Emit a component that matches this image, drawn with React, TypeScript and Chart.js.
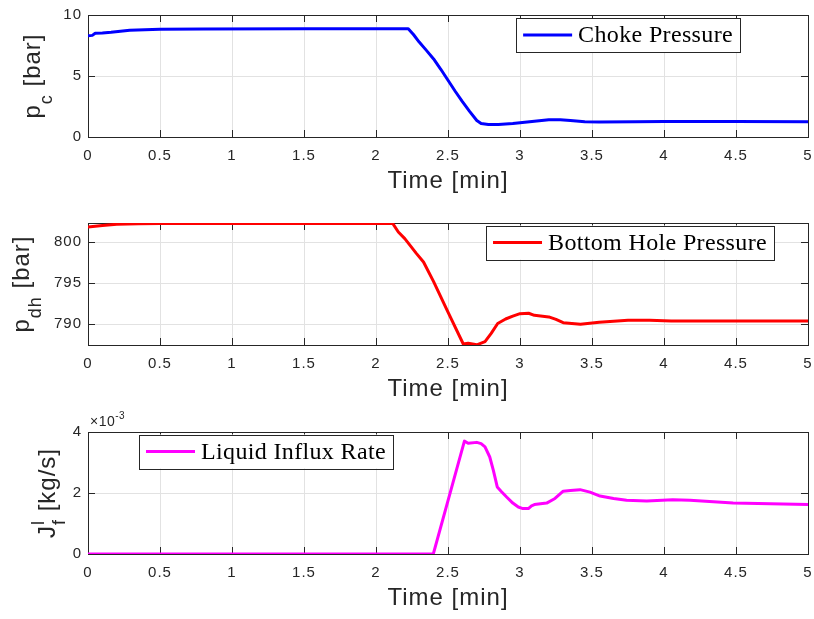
import React, { useEffect, useRef } from "react";
import { Chart, registerables } from "chart.js";

Chart.register(...registerables);

// ---- data -----------------------------------------------------------------

const timeTicks = [0, 0.5, 1, 1.5, 2, 2.5, 3, 3.5, 4, 4.5, 5];

// choke pressure [bar] vs time [min]
const chokeTime = [
  0, 0.03, 0.05, 0.1, 0.16, 0.29, 0.5, 0.8, 1.5, 2.224,
  2.26, 2.3, 2.35, 2.4, 2.45, 2.5, 2.55, 2.6, 2.65, 2.7,
  2.73, 2.78, 2.85, 2.95, 3.05, 3.15, 3.2, 3.28, 3.35, 3.45,
  3.55, 3.8, 4.0, 4.5, 5.0,
];
const chokePressure = [
  8.3, 8.33, 8.5, 8.52, 8.58, 8.75, 8.83, 8.86, 8.87, 8.88,
  8.4, 7.78, 7.1, 6.4, 5.55, 4.65, 3.75, 2.9, 2.1, 1.35,
  1.1, 1.03, 1.02, 1.1, 1.22, 1.35, 1.42, 1.42, 1.35, 1.25,
  1.22, 1.25, 1.28, 1.27, 1.25,
];
const chokeTicks = [0, 5, 10];

// bottom hole pressure [bar] vs time [min]
const bhpTime = [
  0, 0.1, 0.2, 0.35, 0.5, 2.116, 2.155, 2.2, 2.28, 2.33,
  2.4, 2.5, 2.606, 2.64, 2.7, 2.757, 2.8, 2.845, 2.9, 2.95,
  3.0, 3.06, 3.1, 3.2, 3.25, 3.3, 3.42, 3.55, 3.75, 3.9,
  4.05, 5.0,
];
const bhpValues = [
  801.85, 802.05, 802.2, 802.27, 802.3, 802.3, 801.25, 800.45, 798.65, 797.6,
  795.2, 791.5, 787.6, 787.7, 787.5, 787.9, 788.9, 790.1, 790.65, 791.0,
  791.3, 791.35, 791.1, 790.9, 790.6, 790.2, 790.0, 790.25, 790.5, 790.5,
  790.4, 790.4,
];
const bhpTicks = [790, 795, 800];
const bhpRange = [787.48, 802.35];

// liquid influx rate [kg/s] vs time [min]
const influxTime = [
  0, 2.398, 2.614, 2.64, 2.7, 2.73, 2.757, 2.79, 2.815, 2.842,
  2.87, 2.907, 2.95, 2.988, 3.02, 3.058, 3.08, 3.1, 3.185, 3.243,
  3.3, 3.35, 3.417, 3.486, 3.556, 3.65, 3.74, 3.88, 4.06, 4.18,
  4.48, 5.0,
];
const influxRate = [
  0, 0, 3.70e-3, 3.63e-3, 3.66e-3, 3.62e-3, 3.51e-3, 3.18e-3, 2.74e-3, 2.2e-3,
  2.05e-3, 1.87e-3, 1.67e-3, 1.54e-3, 1.49e-3, 1.49e-3, 1.58e-3, 1.62e-3, 1.67e-3, 1.82e-3,
  2.06e-3, 2.08e-3, 2.11e-3, 2.03e-3, 1.9e-3, 1.82e-3, 1.76e-3, 1.74e-3, 1.78e-3, 1.76e-3,
  1.67e-3, 1.62e-3,
];
const influxTicks = [0, 2e-3, 4e-3];

// ---- styling helpers -------------------------------------------------------

const SANS = '"Liberation Sans", Arial, Helvetica, sans-serif';
const SERIF = '"Liberation Serif", "Times New Roman", serif';
const INK = "#262626";
const GRID = "#e2e2e2";

type Seg = { text: string; size: number; shift: number };
type Piece = Seg | { sup: Seg; sub: Seg };

function setSpacing(ctx: CanvasRenderingContext2D, px: number) {
  (ctx as any).letterSpacing = `${px}px`;
}

function segWidth(ctx: CanvasRenderingContext2D, s: Seg) {
  ctx.font = `${s.size}px ${SANS}`;
  return ctx.measureText(s.text).width;
}

function pieceWidth(ctx: CanvasRenderingContext2D, p: Piece) {
  if ("sup" in p) return Math.max(segWidth(ctx, p.sup), segWidth(ctx, p.sub));
  return segWidth(ctx, p);
}

function drawSeg(ctx: CanvasRenderingContext2D, s: Seg, x: number) {
  ctx.font = `${s.size}px ${SANS}`;
  ctx.fillText(s.text, x, s.shift);
}

// rotated axis label built from plain, sub- and superscript pieces
function drawVerticalLabel(
  ctx: CanvasRenderingContext2D,
  pieces: Piece[],
  baselineX: number,
  centerY: number
) {
  ctx.save();
  ctx.translate(baselineX, centerY);
  ctx.rotate(-Math.PI / 2);
  ctx.fillStyle = INK;
  ctx.textBaseline = "alphabetic";
  ctx.textAlign = "left";
  setSpacing(ctx, 1);
  const total = pieces.reduce((a, p) => a + pieceWidth(ctx, p), 0);
  let x = -total / 2;
  for (const p of pieces) {
    const w = pieceWidth(ctx, p);
    if ("sup" in p) {
      drawSeg(ctx, p.sup, x);
      drawSeg(ctx, p.sub, x);
    } else {
      drawSeg(ctx, p, x);
    }
    x += w;
  }
  ctx.restore();
}

type LegendSpec = {
  label: string;
  color: string;
  side: "left" | "right";
  offsetX: number;
  offsetY: number;
};

type FrameOpts = {
  yLabel: Piece[];
  yLabelX: number;
  legend: LegendSpec;
  exponent?: boolean;
};

const framePlugin = {
  id: "frame",
  beforeDraw(chart: any) {
    // slightly wider tick text, as in the axes font
    setSpacing(chart.ctx, 1);
  },
  beforeDatasetsDraw(chart: any) {
    const { ctx, chartArea: a, scales } = chart;
    const tick = 7;
    ctx.save();
    ctx.strokeStyle = INK;
    ctx.lineWidth = 1;
    ctx.beginPath();
    for (const v of timeTicks) {
      const px = Math.round(scales.x.getPixelForValue(v)) + 0.5;
      ctx.moveTo(px, a.bottom);
      ctx.lineTo(px, a.bottom - tick);
      ctx.moveTo(px, a.top);
      ctx.lineTo(px, a.top + tick);
    }
    for (const t of scales.y.ticks) {
      const py = Math.round(scales.y.getPixelForValue(t.value)) + 0.5;
      ctx.moveTo(a.left, py);
      ctx.lineTo(a.left + tick, py);
      ctx.moveTo(a.right, py);
      ctx.lineTo(a.right - tick, py);
    }
    ctx.stroke();
    ctx.strokeRect(
      Math.round(a.left) + 0.5,
      Math.round(a.top) + 0.5,
      Math.round(a.right - a.left),
      Math.round(a.bottom - a.top)
    );
    ctx.restore();
  },
  afterDraw(chart: any, _args: any, opts: FrameOpts) {
    const { ctx, chartArea: a } = chart;
    ctx.save();

    // x axis title
    ctx.fillStyle = INK;
    ctx.font = `24px ${SANS}`;
    setSpacing(ctx, 1);
    ctx.textAlign = "center";
    ctx.textBaseline = "alphabetic";
    ctx.fillText("Time [min]", (a.left + a.right) / 2, a.bottom + 51);

    // y axis title
    drawVerticalLabel(ctx, opts.yLabel, opts.yLabelX, (a.top + a.bottom) / 2);

    // exponent marker
    if (opts.exponent) {
      setSpacing(ctx, 0.5);
      ctx.fillStyle = INK;
      ctx.textAlign = "left";
      ctx.font = `14px ${SANS}`;
      ctx.fillText("\u00d710", a.left + 2, a.top - 6);
      const w = ctx.measureText("\u00d710").width;
      ctx.font = `10px ${SANS}`;
      ctx.fillText("-3", a.left + 2 + w, a.top - 13);
    }

    // legend box
    const L = opts.legend;
    ctx.font = `24px ${SERIF}`;
    setSpacing(ctx, 0.35);
    const tw = ctx.measureText(L.label).width;
    const boxW = 7 + 49 + 6 + tw + 7;
    const boxH = 34;
    const bx = L.side === "right" ? a.right - L.offsetX - boxW : a.left + L.offsetX;
    const by = a.top + L.offsetY;
    ctx.fillStyle = "#ffffff";
    ctx.fillRect(bx, by, boxW, boxH);
    ctx.strokeStyle = INK;
    ctx.lineWidth = 1;
    ctx.strokeRect(Math.round(bx) + 0.5, Math.round(by) + 0.5, Math.round(boxW), boxH);
    ctx.strokeStyle = L.color;
    ctx.lineWidth = 3;
    ctx.beginPath();
    ctx.moveTo(bx + 7, by + boxH / 2);
    ctx.lineTo(bx + 56, by + boxH / 2);
    ctx.stroke();
    ctx.fillStyle = "#000000";
    ctx.textAlign = "left";
    ctx.textBaseline = "middle";
    ctx.fillText(L.label, bx + 62, by + boxH / 2 + 1);
    ctx.restore();
  },
};

type PanelSpec = {
  times: number[];
  values: number[];
  color: string;
  yMin: number;
  yMax: number;
  yTicks: number[];
  yFormat: (v: number) => string;
  padTop: number;
  axisHeight: number;
  frame: FrameOpts;
};

function buildConfig(spec: PanelSpec): any {
  return {
    type: "line",
    data: {
      datasets: [
        {
          data: spec.times.map((t, i) => ({ x: t, y: spec.values[i] })),
          borderColor: spec.color,
          borderWidth: 3,
          pointRadius: 0,
          tension: 0,
          fill: false,
          borderJoinStyle: "round",
          borderCapStyle: "round",
        },
      ],
    },
    options: {
      responsive: false,
      animation: false,
      devicePixelRatio: 1,
      events: [],
      layout: { padding: { top: spec.padTop, right: 6, left: 0, bottom: 0 } },
      plugins: {
        legend: { display: false },
        tooltip: { enabled: false },
        frame: spec.frame,
      },
      scales: {
        x: {
          type: "linear",
          min: 0,
          max: 5,
          afterBuildTicks: (s: any) => {
            s.ticks = timeTicks.map((v) => ({ value: v }));
          },
          afterFit: (s: any) => {
            s.height = spec.axisHeight;
            s.paddingLeft = 0;
            s.paddingRight = 0;
          },
          grid: { color: GRID, drawTicks: false, lineWidth: 1 },
          border: { display: false },
          ticks: {
            padding: 10,
            color: INK,
            font: { family: SANS, size: 15 },
            maxRotation: 0,
            autoSkip: false,
            callback: (v: number) => String(v),
          },
        },
        y: {
          type: "linear",
          min: spec.yMin,
          max: spec.yMax,
          afterBuildTicks: (s: any) => {
            s.ticks = spec.yTicks.map((v) => ({ value: v }));
          },
          afterFit: (s: any) => {
            s.width = 88;
          },
          grid: { color: GRID, drawTicks: false, lineWidth: 1 },
          border: { display: false },
          ticks: {
            padding: 6,
            color: INK,
            font: { family: SANS, size: 15 },
            autoSkip: false,
            callback: (v: number) => spec.yFormat(v),
          },
        },
      },
    },
    plugins: [framePlugin],
  };
}

const panels: { spec: PanelSpec; top: number; height: number }[] = [
  {
    top: 0,
    height: 205,
    spec: {
      times: chokeTime,
      values: chokePressure,
      color: "#0000ff",
      yMin: 0,
      yMax: 10,
      yTicks: chokeTicks,
      yFormat: (v) => String(v),
      padTop: 14,
      axisHeight: 68,
      frame: {
        yLabel: [
          { text: "p", size: 24, shift: 0 },
          { text: "c", size: 18, shift: 12 },
          { text: " [bar]", size: 24, shift: 0 },
        ],
        yLabelX: 40,
        legend: { label: "Choke Pressure", color: "#0000ff", side: "right", offsetX: 68, offsetY: 3 },
      },
    },
  },
  {
    top: 205,
    height: 205,
    spec: {
      times: bhpTime,
      values: bhpValues,
      color: "#ff0000",
      yMin: bhpRange[0],
      yMax: bhpRange[1],
      yTicks: bhpTicks,
      yFormat: (v) => String(v),
      padTop: 18,
      axisHeight: 65,
      frame: {
        yLabel: [
          { text: "p", size: 24, shift: 0 },
          { text: "dh", size: 18, shift: 12 },
          { text: " [bar]", size: 24, shift: 0 },
        ],
        yLabelX: 29,
        legend: { label: "Bottom Hole Pressure", color: "#ff0000", side: "right", offsetX: 34, offsetY: 2.5 },
      },
    },
  },
  {
    top: 410,
    height: 209,
    spec: {
      times: influxTime,
      values: influxRate,
      color: "#ff00ff",
      yMin: 0,
      yMax: 4e-3,
      yTicks: influxTicks,
      yFormat: (v) => String(Math.round(v * 1000)),
      padTop: 22,
      axisHeight: 65,
      frame: {
        yLabel: [
          { text: "J", size: 24, shift: 0 },
          { sup: { text: "l", size: 18, shift: -11 }, sub: { text: "f", size: 18, shift: 10 } },
          { text: " [kg/s]", size: 24, shift: 0 },
        ],
        yLabelX: 55,
        exponent: true,
        legend: { label: "Liquid Influx Rate", color: "#ff00ff", side: "left", offsetX: 51, offsetY: 2.5 },
      },
    },
  },
];

function Panel({ spec, top, height }: { spec: PanelSpec; top: number; height: number }) {
  const ref = useRef<HTMLCanvasElement>(null);
  useEffect(() => {
    const chart = new Chart(ref.current as HTMLCanvasElement, buildConfig(spec));
    return () => chart.destroy();
  }, [spec]);
  return (
    <canvas
      ref={ref}
      width={814}
      height={height}
      style={{ position: "absolute", left: 0, top, width: 814, height }}
    />
  );
}

export default function App() {
  return (
    <div
      style={{
        position: "absolute",
        left: 0,
        top: 0,
        width: 814,
        height: 619,
        background: "#ffffff",
        overflow: "hidden",
      }}
    >
      {panels.map((p, i) => (
        <Panel key={i} spec={p.spec} top={p.top} height={p.height} />
      ))}
    </div>
  );
}
